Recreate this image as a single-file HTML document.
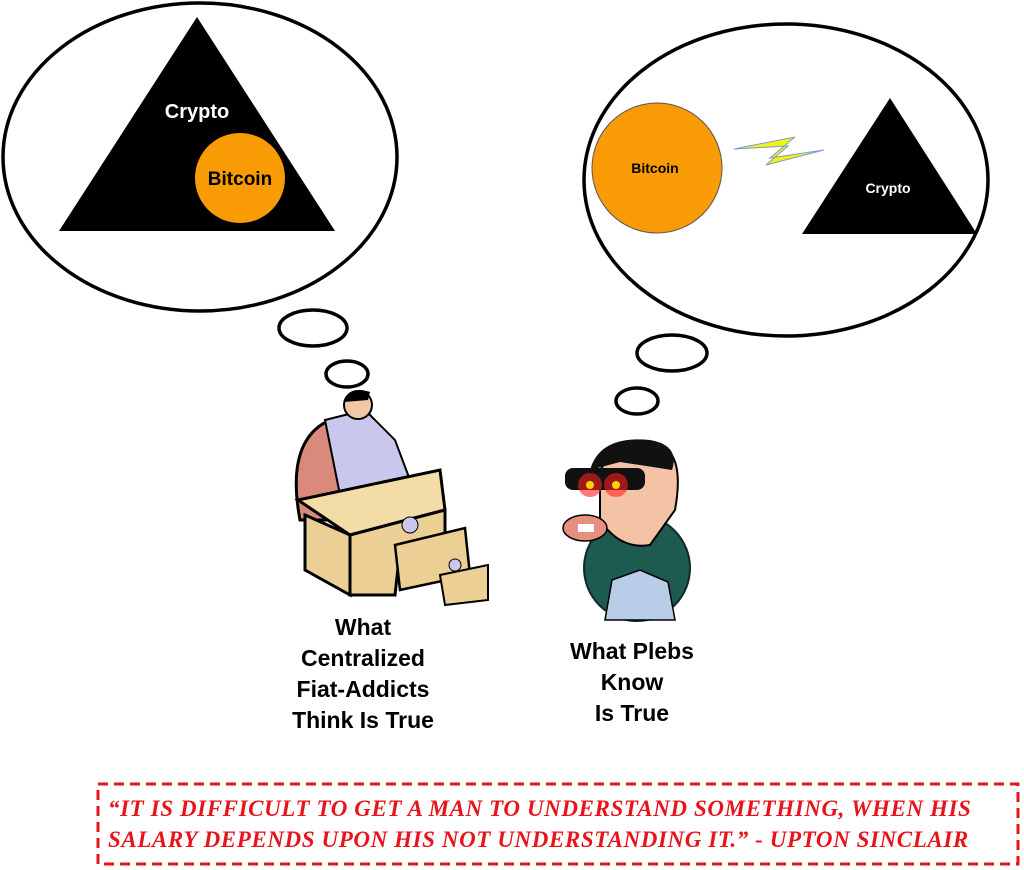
<!DOCTYPE html>
<html><head><meta charset="utf-8"><style>
html,body{margin:0;padding:0;background:#fff;}
body{width:1024px;height:870px;position:relative;overflow:hidden;font-family:"Liberation Sans",sans-serif;}
.lbl{position:absolute;font-weight:bold;font-size:23px;line-height:31px;text-align:center;color:#000;}
.q{position:absolute;left:108px;top:793px;font-family:"Liberation Serif",serif;font-weight:bold;font-style:italic;font-size:23px;line-height:31px;color:#e8141c;text-transform:uppercase;letter-spacing:0.6px;white-space:nowrap;}
</style></head><body>
<svg width="1024" height="870" style="position:absolute;left:0;top:0">
<rect x="98" y="784" width="920" height="80" fill="none" stroke="#e8141c" stroke-width="3" stroke-dasharray="10,6"/>
<g fill="none" stroke="#000" stroke-width="3.5">
<ellipse cx="200" cy="157" rx="197" ry="154"/>
<ellipse cx="786" cy="180" rx="202" ry="156"/>
<ellipse cx="313" cy="328" rx="34" ry="18"/>
<ellipse cx="347" cy="374" rx="21" ry="13"/>
<ellipse cx="672" cy="353" rx="35" ry="18"/>
<ellipse cx="637" cy="401" rx="21" ry="13"/>
</g>
<polygon points="197,17 335,231 59,231" fill="#000"/>
<circle cx="240" cy="178" r="45" fill="#f99b05"/>
<text x="197" y="118" fill="#fff" font-family="Liberation Sans" font-weight="bold" font-size="20" text-anchor="middle">Crypto</text>
<text x="240" y="185" fill="#000" font-family="Liberation Sans" font-weight="bold" font-size="19" text-anchor="middle">Bitcoin</text>
<circle cx="657" cy="168" r="65" fill="#f99b05" stroke="#555" stroke-width="1"/>
<text x="655" y="173" fill="#000" font-family="Liberation Sans" font-weight="bold" font-size="14" text-anchor="middle">Bitcoin</text>
<polygon points="890,98 977,234 802,234" fill="#000"/>
<text x="888" y="193" fill="#fff" font-family="Liberation Sans" font-weight="bold" font-size="14" text-anchor="middle">Crypto</text>
<polygon points="734,149 795,137 770,158 824,150 766,165 788,146" fill="#f4f40a" stroke="#7c9ad6" stroke-width="1"/>
<path d="M300,520 Q285,440 330,420 L345,425 L340,520 Z" fill="#d98a7a" stroke="#000" stroke-width="3"/>
<path d="M325,420 L365,410 L395,440 L410,480 L340,495 Z" fill="#c9c8ec" stroke="#000" stroke-width="2"/>
<circle cx="358" cy="405" r="14" fill="#f0c8a8" stroke="#000" stroke-width="2"/>
<path d="M344,402 Q350,385 370,392 L368,400 Z" fill="#000"/>
<polygon points="298,500 440,470 445,510 350,535" fill="#f3dca6" stroke="#000" stroke-width="3"/>
<polygon points="305,515 350,535 350,595 305,570" fill="#ebcf95" stroke="#000" stroke-width="3"/>
<polygon points="350,535 445,510 445,540 400,550 395,595 350,595" fill="#ebcf95" stroke="#000" stroke-width="3"/>
<polygon points="395,545 465,528 470,575 400,590" fill="#ebcf95" stroke="#000" stroke-width="2.5"/>
<polygon points="440,575 488,565 488,600 445,605" fill="#ebcf95" stroke="#000" stroke-width="2"/>
<circle cx="410" cy="525" r="8" fill="#c9c8ec" stroke="#000"/>
<circle cx="455" cy="565" r="6" fill="#c9c8ec" stroke="#000"/>
<circle cx="637" cy="568" r="53" fill="#1d5a4f" stroke="#0c2d27" stroke-width="2"/>
<path d="M605,620 L612,580 L640,570 L668,582 L675,620 Z" fill="#b9cde9" stroke="#000" stroke-width="1.5"/>
<path d="M600,470 Q620,440 660,445 Q685,455 675,510 L650,545 Q620,550 600,520 Z" fill="#f4c3a6" stroke="#000" stroke-width="2"/>
<path d="M590,470 Q600,435 650,440 Q680,445 672,470 L620,462 Z" fill="#111"/>
<rect x="565" y="468" width="80" height="22" rx="8" fill="#111"/>
<circle cx="590" cy="485" r="12" fill="#ff2020" opacity="0.6"/>
<circle cx="616" cy="485" r="12" fill="#ff2020" opacity="0.6"/>
<circle cx="590" cy="485" r="4" fill="#ffd000"/>
<circle cx="616" cy="485" r="4" fill="#ffd000"/>
<ellipse cx="585" cy="528" rx="22" ry="13" fill="#e89080" stroke="#000" stroke-width="1.5"/>
<rect x="578" y="524" width="16" height="8" fill="#fff"/>
</svg>
<div class="lbl" style="left:263px;top:612px;width:200px">What<br>Centralized<br>Fiat-Addicts<br>Think Is True</div>
<div class="lbl" style="left:532px;top:636px;width:200px">What Plebs<br>Know<br>Is True</div>
<div class="q">“It is difficult to get a man to understand something, when his<br>salary depends upon his not understanding it.” - Upton Sinclair</div>
</body></html>
